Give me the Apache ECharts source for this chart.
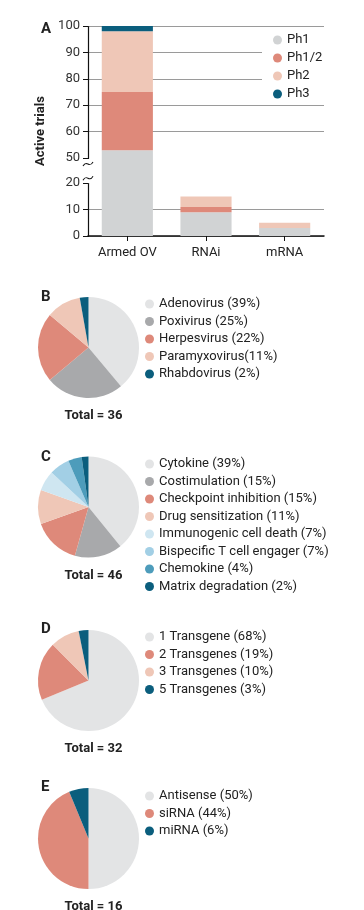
<!DOCTYPE html>
<html><head><meta charset="utf-8">
<script src="https://cdn.jsdelivr.net/npm/echarts@6/dist/echarts.min.js"></script>
<style>html,body{margin:0;padding:0;background:#fff}#c{width:364px;height:910px}</style>
</head><body><div id="c"></div>
<script>
// ---- Panel A data ----
const barCategories = ['Armed OV', 'RNAi', 'mRNA'];
const phaseNames = ['Ph1', 'Ph1/2', 'Ph2', 'Ph3'];
const ph1 = [53, 9, 3];
const ph12 = [22, 2, 0];
const ph2 = [23, 4, 2];
const ph3 = [2, 0, 0];
const yTickLabels = [0, 10, 20, 50, 60, 70, 80, 90, 100];
const yBreak = [20, 50];

// ---- Panel B ----
const virusNames = ['Adenovirus (39%)', 'Poxivirus (25%)', 'Herpesvirus (22%)', 'Paramyxovirus(11%)', 'Rhabdovirus (2%)'];
const virusCounts = [14, 9, 8, 4, 1];
const virusTotal = 36;

// ---- Panel C ----
const payloadNames = ['Cytokine (39%)', 'Costimulation (15%)', 'Checkpoint inhibition (15%)', 'Drug sensitization (11%)',
  'Immunogenic cell death (7%)', 'Bispecific T cell engager (7%)', 'Chemokine (4%)', 'Matrix degradation (2%)'];
const payloadCounts = [18, 7, 7, 5, 3, 3, 2, 1];
const payloadTotal = 46;

// ---- Panel D ----
const transgeneNames = ['1 Transgene (68%)', '2 Transgenes (19%)', '3 Transgenes (10%)', '5 Transgenes (3%)'];
const transgeneCounts = [22, 6, 3, 1];
const transgeneTotal = 32;

// ---- Panel E ----
const rnaNames = ['Antisense (50%)', 'siRNA (44%)', 'miRNA (6%)'];
const rnaCounts = [8, 7, 1];
const rnaTotal = 16;

// ---- styles ----
const C_LGRAY = '#e3e4e5', C_GRAY = '#a8a9ab', C_SALMON = '#de897a', C_PEACH = '#efc7b7', C_TEAL = '#0b5e7d';
const C_BAR1 = '#d1d3d4';
const C_ICD = '#cfe6f1', C_BITE = '#a2cfe5', C_CHEMO = '#4d9cbb';
const phaseColors = [C_BAR1, C_SALMON, C_PEACH, C_TEAL];
const FONT = 'Roboto, "Liberation Sans", sans-serif';
const TXT = '#222';

const chart = echarts.init(document.getElementById('c'), null, {renderer: 'canvas'});

function pieBlock(names, counts, colors, cy, legendTop, total, letter, letterTop) {
  return {
    series: {
      type: 'pie', center: [88.5, cy], radius: 50.5, startAngle: 90, clockwise: true,
      label: {show: false}, labelLine: {show: false}, silent: true,
      itemStyle: {borderWidth: 0},
      data: names.map((n, i) => ({name: n, value: counts[i], itemStyle: {color: colors[i]}}))
    },
    legend: {
      data: names, orient: 'vertical', left: 145, top: legendTop, padding: 0,
      icon: 'circle', itemWidth: 9, itemHeight: 9, itemGap: 3.5, selectedMode: false,
      textStyle: {fontFamily: FONT, fontSize: 13, color: TXT, lineHeight: 14}
    },
    titles: [
      {text: 'Total = ' + total, left: 88.5, textAlign: 'center', top: cy + 57,
        textStyle: {fontFamily: FONT, fontSize: 13, fontWeight: 'bold', color: TXT}},
      {text: letter, left: 36, top: letterTop, textStyle: {fontFamily: FONT, fontSize: 15, fontWeight: 'bold', color: TXT}}
    ]
  };
}

const blocks = [
  pieBlock(virusNames, virusCounts, [C_LGRAY, C_GRAY, C_SALMON, C_PEACH, C_TEAL], 347.5, 297, virusTotal, 'B', 285),
  pieBlock(payloadNames, payloadCounts, [C_LGRAY, C_GRAY, C_SALMON, C_PEACH, C_ICD, C_BITE, C_CHEMO, C_TEAL], 507, 457, payloadTotal, 'C', 445),
  pieBlock(transgeneNames, transgeneCounts, [C_LGRAY, C_SALMON, C_PEACH, C_TEAL], 680.5, 630, transgeneTotal, 'D', 617),
  pieBlock(rnaNames, rnaCounts, [C_LGRAY, C_SALMON, C_TEAL], 838.5, 789, rnaTotal, 'E', 775)
];

const phaseData = [ph1, ph12, ph2, ph3];

const option = {
  animation: false,
  backgroundColor: '#fff',
  textStyle: {fontFamily: FONT},
  title: [
    {text: 'A', left: 36, top: 17, textStyle: {fontFamily: FONT, fontSize: 15, fontWeight: 'bold', color: TXT}},
    ...blocks.flatMap(b => b.titles)
  ],
  grid: {left: 88, right: 40, top: 26, bottom: 674, containLabel: false},
  xAxis: {
    type: 'category', data: barCategories,
    axisLine: {lineStyle: {color: '#111', width: 1.5}},
    axisTick: {show: true, alignWithLabel: true, length: 5, lineStyle: {color: '#111'}},
    axisLabel: {fontFamily: FONT, fontSize: 13, color: TXT, margin: 10}
  },
  yAxis: {
    type: 'value', min: 0, max: 100, interval: 10,
    breaks: [{start: yBreak[0], end: yBreak[1], gap: 9.5}],
    breakArea: {show: false},
    name: 'Active trials', nameLocation: 'middle', nameGap: 34,
    nameTextStyle: {fontFamily: FONT, fontSize: 13, fontWeight: 'bold', color: TXT},
    axisLine: {show: true, lineStyle: {color: '#111', width: 1.2}},
    axisTick: {show: true, length: 5, lineStyle: {color: '#111'}},
    axisLabel: {fontFamily: FONT, fontSize: 13, color: '#333', margin: 8,
      formatter: v => (yTickLabels.indexOf(v) >= 0 ? String(v) : '')},
    splitLine: {lineStyle: {color: '#9a9a9a', width: 1}}
  },
  legend: [
    {
      data: phaseNames, orient: 'vertical', left: 262, top: 29,
      padding: [4, 30, 2, 11], backgroundColor: '#fff',
      icon: 'circle', itemWidth: 9, itemHeight: 9, itemGap: 4, selectedMode: false,
      textStyle: {fontFamily: FONT, fontSize: 13, color: TXT, lineHeight: 14}
    },
    ...blocks.map(b => b.legend)
  ],
  series: [
    ...phaseNames.map((n, i) => ({
      name: n, type: 'bar', stack: 'all', barWidth: '65%', silent: true,
      itemStyle: {color: phaseColors[i]},
      data: phaseData[i]
    })),
    ...blocks.map(b => b.series)
  ]
};
chart.setOption(option);

// axis-break decoration on the y axis line
const ax = chart.convertToPixel({xAxisIndex: 0}, 0) - (chart.convertToPixel({xAxisIndex: 0}, 1) - chart.convertToPixel({xAxisIndex: 0}, 0)) / 2;
const yTop = chart.convertToPixel({yAxisIndex: 0}, yBreak[1]) + 6;
const yBot = chart.convertToPixel({yAxisIndex: 0}, yBreak[0]) - 5;
function tilde(x, y) {
  return {type: 'bezierCurve', shape: {x1: x - 5, y1: y + 2, x2: x + 5, y2: y - 2, cpx1: x - 1, cpy1: y - 5, cpx2: x + 1, cpy2: y + 5},
    style: {stroke: '#111', lineWidth: 1.1, fill: null}, z: 100};
}
chart.setOption({graphic: [
  {type: 'line', shape: {x1: ax, y1: yTop, x2: ax, y2: yBot}, style: {stroke: '#fff', lineWidth: 3}, z: 99},
  tilde(ax, yTop), tilde(ax, yBot)
]});
</script>
</body></html>
